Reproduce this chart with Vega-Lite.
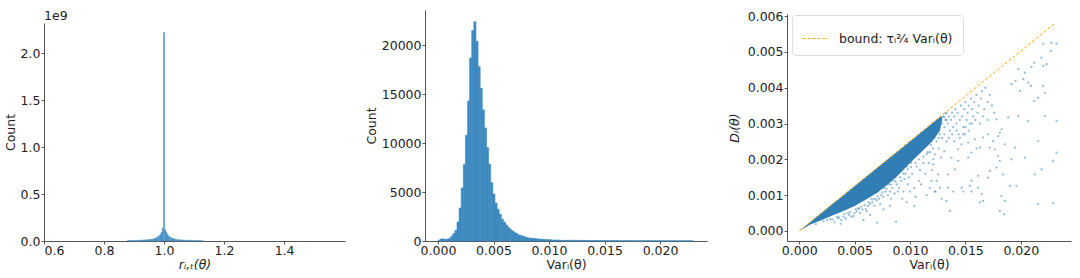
{
  "$schema": "https://vega.github.io/schema/vega-lite/v6.json",
  "padding": {"left": 4, "top": 9, "right": 5, "bottom": 2},
  "spacing": 80,
  "bounds": "flush",
  "resolve": {"scale": {"color": "independent"}, "legend": {"color": "independent"}},
  "config": {
    "view": {"stroke": null},
    "font": "DejaVu Sans",
    "axis": {"labelFontSize": 12.5, "titleFontSize": 12.5, "labelColor": "#222", "titleColor": "#222", "domainColor": "#555", "tickColor": "#555", "tickSize": 3, "grid": false, "titleFontWeight": "normal"},
    "axisX": {"labelPadding": 0, "titlePadding": 2},
    "axisY": {"labelPadding": 1, "titlePadding": 3}
  },
  "datasets": {
    "h1": [
      {"lo": 0.878, "hi": 0.888, "c": 0.004}, {"lo": 0.888, "hi": 0.898, "c": 0.005}, {"lo": 0.898, "hi": 0.908, "c": 0.006},
      {"lo": 0.908, "hi": 0.918, "c": 0.007}, {"lo": 0.918, "hi": 0.928, "c": 0.009}, {"lo": 0.928, "hi": 0.938, "c": 0.011},
      {"lo": 0.938, "hi": 0.948, "c": 0.013}, {"lo": 0.948, "hi": 0.958, "c": 0.016}, {"lo": 0.958, "hi": 0.962, "c": 0.019},
      {"lo": 0.962, "hi": 0.966, "c": 0.022}, {"lo": 0.966, "hi": 0.970, "c": 0.026}, {"lo": 0.970, "hi": 0.974, "c": 0.031},
      {"lo": 0.974, "hi": 0.978, "c": 0.037}, {"lo": 0.978, "hi": 0.982, "c": 0.045}, {"lo": 0.982, "hi": 0.986, "c": 0.055},
      {"lo": 0.986, "hi": 0.990, "c": 0.07}, {"lo": 0.990, "hi": 0.994, "c": 0.095}, {"lo": 0.994, "hi": 0.998, "c": 0.14},
      {"lo": 0.998, "hi": 1.002, "c": 2.22}, {"lo": 1.002, "hi": 1.006, "c": 0.12}, {"lo": 1.006, "hi": 1.010, "c": 0.09},
      {"lo": 1.010, "hi": 1.014, "c": 0.068}, {"lo": 1.014, "hi": 1.018, "c": 0.052}, {"lo": 1.018, "hi": 1.022, "c": 0.042},
      {"lo": 1.022, "hi": 1.026, "c": 0.034}, {"lo": 1.026, "hi": 1.030, "c": 0.028}, {"lo": 1.030, "hi": 1.034, "c": 0.024},
      {"lo": 1.034, "hi": 1.038, "c": 0.02}, {"lo": 1.038, "hi": 1.042, "c": 0.017}, {"lo": 1.042, "hi": 1.052, "c": 0.014},
      {"lo": 1.052, "hi": 1.062, "c": 0.012}, {"lo": 1.062, "hi": 1.072, "c": 0.01}, {"lo": 1.072, "hi": 1.082, "c": 0.008},
      {"lo": 1.082, "hi": 1.092, "c": 0.007}, {"lo": 1.092, "hi": 1.102, "c": 0.006}, {"lo": 1.102, "hi": 1.112, "c": 0.005},
      {"lo": 1.112, "hi": 1.122, "c": 0.004}, {"lo": 1.122, "hi": 1.132, "c": 0.003}
    ],
    "h2": [
      {"lo": 0, "hi": 0.00019, "c": 80}, {"lo": 0.00019, "hi": 0.00038, "c": 200}, {"lo": 0.00038, "hi": 0.00057, "c": 220},
      {"lo": 0.00057, "hi": 0.00076, "c": 170}, {"lo": 0.00076, "hi": 0.00095, "c": 190}, {"lo": 0.00095, "hi": 0.00114, "c": 260},
      {"lo": 0.00114, "hi": 0.00133, "c": 475}, {"lo": 0.00133, "hi": 0.00152, "c": 750}, {"lo": 0.00152, "hi": 0.00171, "c": 1090},
      {"lo": 0.00171, "hi": 0.0019, "c": 1940}, {"lo": 0.0019, "hi": 0.00209, "c": 3370}, {"lo": 0.00209, "hi": 0.00228, "c": 5420},
      {"lo": 0.00228, "hi": 0.00247, "c": 7800}, {"lo": 0.00247, "hi": 0.00266, "c": 10800}, {"lo": 0.00266, "hi": 0.00285, "c": 14300},
      {"lo": 0.00285, "hi": 0.00304, "c": 18700}, {"lo": 0.00304, "hi": 0.00323, "c": 21500}, {"lo": 0.00323, "hi": 0.00342, "c": 22400},
      {"lo": 0.00342, "hi": 0.00361, "c": 20400}, {"lo": 0.00361, "hi": 0.0038, "c": 17800}, {"lo": 0.0038, "hi": 0.00399, "c": 15600},
      {"lo": 0.00399, "hi": 0.00418, "c": 13400}, {"lo": 0.00418, "hi": 0.00437, "c": 11550}, {"lo": 0.00437, "hi": 0.00456, "c": 9550},
      {"lo": 0.00456, "hi": 0.00475, "c": 7850}, {"lo": 0.00475, "hi": 0.00494, "c": 5960}, {"lo": 0.00494, "hi": 0.00513, "c": 4800},
      {"lo": 0.00513, "hi": 0.00532, "c": 3880}, {"lo": 0.00532, "hi": 0.00551, "c": 3250}, {"lo": 0.00551, "hi": 0.0057, "c": 2740},
      {"lo": 0.0057, "hi": 0.00589, "c": 2230}, {"lo": 0.00589, "hi": 0.00608, "c": 1940}, {"lo": 0.00608, "hi": 0.00627, "c": 1640},
      {"lo": 0.00627, "hi": 0.00646, "c": 1400}, {"lo": 0.00646, "hi": 0.00665, "c": 1190}, {"lo": 0.00665, "hi": 0.00684, "c": 1020},
      {"lo": 0.00684, "hi": 0.00703, "c": 850}, {"lo": 0.00703, "hi": 0.00722, "c": 750}, {"lo": 0.00722, "hi": 0.00741, "c": 610},
      {"lo": 0.00741, "hi": 0.0076, "c": 545}, {"lo": 0.0076, "hi": 0.00779, "c": 480}, {"lo": 0.00779, "hi": 0.00798, "c": 410},
      {"lo": 0.00798, "hi": 0.00817, "c": 340}, {"lo": 0.00817, "hi": 0.00836, "c": 300}, {"lo": 0.00836, "hi": 0.00855, "c": 270},
      {"lo": 0.00855, "hi": 0.00874, "c": 265}, {"lo": 0.00874, "hi": 0.00893, "c": 240}, {"lo": 0.00893, "hi": 0.00912, "c": 205},
      {"lo": 0.00912, "hi": 0.00931, "c": 200}, {"lo": 0.00931, "hi": 0.0095, "c": 175}, {"lo": 0.0095, "hi": 0.00969, "c": 170},
      {"lo": 0.00969, "hi": 0.00988, "c": 140}, {"lo": 0.00988, "hi": 0.01007, "c": 135}, {"lo": 0.01007, "hi": 0.01026, "c": 130},
      {"lo": 0.01026, "hi": 0.01045, "c": 105}, {"lo": 0.01045, "hi": 0.01064, "c": 100}, {"lo": 0.01064, "hi": 0.01083, "c": 100},
      {"lo": 0.01083, "hi": 0.01102, "c": 95}, {"lo": 0.01102, "hi": 0.01121, "c": 65}, {"lo": 0.01121, "hi": 0.0114, "c": 55},
      {"lo": 0.0114, "hi": 0.01235, "c": 70}, {"lo": 0.01235, "hi": 0.0133, "c": 60}, {"lo": 0.0133, "hi": 0.01425, "c": 52},
      {"lo": 0.01425, "hi": 0.0152, "c": 45}, {"lo": 0.0152, "hi": 0.01615, "c": 40}, {"lo": 0.01615, "hi": 0.0171, "c": 36},
      {"lo": 0.0171, "hi": 0.01805, "c": 32}, {"lo": 0.01805, "hi": 0.019, "c": 30}, {"lo": 0.019, "hi": 0.01995, "c": 28},
      {"lo": 0.01995, "hi": 0.0209, "c": 25}, {"lo": 0.0209, "hi": 0.02185, "c": 24}, {"lo": 0.02185, "hi": 0.0228, "c": 22},
      {"lo": 0.0228, "hi": 0.023, "c": 20}
    ],
    "core": [
      {"x": 0, "y": 0, "lo": 0}, {"x": 0.001, "y": 0.00025, "lo": 0.00018}, {"x": 0.002, "y": 0.0005, "lo": 0.0003},
      {"x": 0.003, "y": 0.00075, "lo": 0.00043}, {"x": 0.004, "y": 0.001, "lo": 0.00056}, {"x": 0.005, "y": 0.00125, "lo": 0.0007},
      {"x": 0.006, "y": 0.0015, "lo": 0.00087}, {"x": 0.007, "y": 0.00175, "lo": 0.00106}, {"x": 0.008, "y": 0.002, "lo": 0.0013},
      {"x": 0.009, "y": 0.00225, "lo": 0.00158}, {"x": 0.010, "y": 0.0025, "lo": 0.0019}, {"x": 0.011, "y": 0.00275, "lo": 0.0022},
      {"x": 0.012, "y": 0.003, "lo": 0.0025}, {"x": 0.0127, "y": 0.00318, "lo": 0.0028}, {"x": 0.0129, "y": 0.0032, "lo": 0.0031}
    ],
    "pts": [
      {"x": 0.0025, "y": 0.0003}, {"x": 0.003, "y": 0.00032}, {"x": 0.0035, "y": 0.00035}, {"x": 0.0032, "y": 0.00025}, {"x": 0.00374, "y": 0.0002},
      {"x": 0.004, "y": 0.0004}, {"x": 0.0042, "y": 0.00035}, {"x": 0.0045, "y": 0.00045}, {"x": 0.0047, "y": 0.0004}, {"x": 0.0038, "y": 0.0003},
      {"x": 0.005, "y": 0.0005}, {"x": 0.0052, "y": 0.00055}, {"x": 0.0055, "y": 0.0005}, {"x": 0.0057, "y": 0.0006}, {"x": 0.0049, "y": 0.00042}, {"x": 0.0054, "y": 0.00062}, {"x": 0.0058, "y": 0.0003},
      {"x": 0.006, "y": 0.0006}, {"x": 0.0062, "y": 0.0007}, {"x": 0.0064, "y": 0.00075}, {"x": 0.0066, "y": 0.0008}, {"x": 0.0061, "y": 0.00055}, {"x": 0.0068, "y": 0.0007}, {"x": 0.0065, "y": 0.0009}, {"x": 0.0069, "y": 0.0009}, {"x": 0.0064, "y": 0.00045},
      {"x": 0.007, "y": 0.00085}, {"x": 0.0072, "y": 0.0009}, {"x": 0.0074, "y": 0.001}, {"x": 0.0076, "y": 0.00095}, {"x": 0.0071, "y": 0.0011}, {"x": 0.0078, "y": 0.0011}, {"x": 0.0073, "y": 0.00075}, {"x": 0.0077, "y": 0.0012}, {"x": 0.00704, "y": 0.00023}, {"x": 0.0076, "y": 0.0006},
      {"x": 0.008, "y": 0.001}, {"x": 0.0082, "y": 0.0011}, {"x": 0.0084, "y": 0.0012}, {"x": 0.0086, "y": 0.00105}, {"x": 0.0081, "y": 0.0013}, {"x": 0.0088, "y": 0.0013}, {"x": 0.0083, "y": 0.0009}, {"x": 0.0087, "y": 0.0015}, {"x": 0.0089, "y": 0.0011}, {"x": 0.0085, "y": 0.0014}, {"x": 0.00874, "y": 0.00026}, {"x": 0.0082, "y": 0.0007},
      {"x": 0.009, "y": 0.0012}, {"x": 0.0092, "y": 0.0014}, {"x": 0.0094, "y": 0.0011}, {"x": 0.0096, "y": 0.0016}, {"x": 0.0091, "y": 0.0017}, {"x": 0.0098, "y": 0.0013}, {"x": 0.0093, "y": 0.0009}, {"x": 0.0097, "y": 0.0018}, {"x": 0.0095, "y": 0.00145}, {"x": 0.0099, "y": 0.0015}, {"x": 0.0097, "y": 0.0008},
      {"x": 0.010, "y": 0.0011}, {"x": 0.0102, "y": 0.0016}, {"x": 0.0104, "y": 0.0012}, {"x": 0.0106, "y": 0.0018}, {"x": 0.0101, "y": 0.0019}, {"x": 0.0108, "y": 0.0014}, {"x": 0.0103, "y": 0.0021}, {"x": 0.0107, "y": 0.0022}, {"x": 0.0105, "y": 0.00095}, {"x": 0.0109, "y": 0.0017}, {"x": 0.0104, "y": 0.0007},
      {"x": 0.011, "y": 0.0013}, {"x": 0.0112, "y": 0.0019}, {"x": 0.0114, "y": 0.0016}, {"x": 0.0116, "y": 0.0022}, {"x": 0.0111, "y": 0.0023}, {"x": 0.0118, "y": 0.0012}, {"x": 0.0113, "y": 0.0025}, {"x": 0.0117, "y": 0.0019}, {"x": 0.0115, "y": 0.001}, {"x": 0.0119, "y": 0.0024},
      {"x": 0.012, "y": 0.0017}, {"x": 0.0122, "y": 0.0026}, {"x": 0.0124, "y": 0.0014}, {"x": 0.0126, "y": 0.0023}, {"x": 0.0121, "y": 0.002}, {"x": 0.0123, "y": 0.0011},
      {"x": 0.0015, "y": 0.00019}, {"x": 0.0022, "y": 0.00027}, {"x": 0.0028, "y": 0.00033}, {"x": 0.0034, "y": 0.0004}, {"x": 0.0036, "y": 0.00038}, {"x": 0.0041, "y": 0.00048},
      {"x": 0.0044, "y": 0.0005}, {"x": 0.0046, "y": 0.00053}, {"x": 0.0051, "y": 0.0006}, {"x": 0.0053, "y": 0.00064}, {"x": 0.0056, "y": 0.00068}, {"x": 0.0059, "y": 0.00072},
      {"x": 0.0063, "y": 0.0008}, {"x": 0.0067, "y": 0.00088}, {"x": 0.0071, "y": 0.00097}, {"x": 0.0075, "y": 0.00108}, {"x": 0.0079, "y": 0.00118}, {"x": 0.0083, "y": 0.0013},
      {"x": 0.0087, "y": 0.00138}, {"x": 0.0091, "y": 0.0015}, {"x": 0.0094, "y": 0.0016}, {"x": 0.0098, "y": 0.00172}, {"x": 0.0101, "y": 0.00178}, {"x": 0.0105, "y": 0.0019},
      {"x": 0.0108, "y": 0.002}, {"x": 0.0112, "y": 0.00208}, {"x": 0.0115, "y": 0.00215}, {"x": 0.0118, "y": 0.0022}, {"x": 0.0121, "y": 0.0023}, {"x": 0.0124, "y": 0.0025},
      {"x": 0.0126, "y": 0.0026}, {"x": 0.0131, "y": 0.00318}, {"x": 0.0133, "y": 0.0031}, {"x": 0.0132, "y": 0.00328},
      {"x": 0.0128, "y": 0.0031}, {"x": 0.0129, "y": 0.003}, {"x": 0.013, "y": 0.0032}, {"x": 0.0131, "y": 0.0029}, {"x": 0.0132, "y": 0.0031}, {"x": 0.0133, "y": 0.0033}, {"x": 0.0134, "y": 0.003}, {"x": 0.0135, "y": 0.0032}, {"x": 0.0136, "y": 0.0028}, {"x": 0.0137, "y": 0.0031},
      {"x": 0.0138, "y": 0.0033}, {"x": 0.0139, "y": 0.0029}, {"x": 0.014, "y": 0.0032}, {"x": 0.0141, "y": 0.0034}, {"x": 0.0142, "y": 0.003}, {"x": 0.0143, "y": 0.0033}, {"x": 0.0144, "y": 0.0027}, {"x": 0.0145, "y": 0.0031}, {"x": 0.0146, "y": 0.0035}, {"x": 0.0147, "y": 0.0032},
      {"x": 0.0148, "y": 0.0029}, {"x": 0.0149, "y": 0.0034}, {"x": 0.015, "y": 0.0036}, {"x": 0.0151, "y": 0.0031}, {"x": 0.0152, "y": 0.0033}, {"x": 0.0153, "y": 0.0035}, {"x": 0.0154, "y": 0.003}, {"x": 0.0155, "y": 0.0037}, {"x": 0.0156, "y": 0.0034}, {"x": 0.0157, "y": 0.0032},
      {"x": 0.0158, "y": 0.0036}, {"x": 0.016, "y": 0.0038}, {"x": 0.0161, "y": 0.0033}, {"x": 0.0162, "y": 0.0035}, {"x": 0.0164, "y": 0.0037}, {"x": 0.0165, "y": 0.0039}, {"x": 0.0167, "y": 0.0034}, {"x": 0.0168, "y": 0.004}, {"x": 0.017, "y": 0.0036}, {"x": 0.0172, "y": 0.0038},
      {"x": 0.0174, "y": 0.0035}, {"x": 0.0176, "y": 0.0033}, {"x": 0.0127, "y": 0.0027}, {"x": 0.0129, "y": 0.0026}, {"x": 0.0131, "y": 0.0027}, {"x": 0.0133, "y": 0.0025}, {"x": 0.0135, "y": 0.0026}, {"x": 0.0138, "y": 0.0027}, {"x": 0.014, "y": 0.0025}, {"x": 0.0142, "y": 0.0028},
      {"x": 0.0145, "y": 0.0026}, {"x": 0.0148, "y": 0.0027}, {"x": 0.015, "y": 0.0029}, {"x": 0.0153, "y": 0.0028}, {"x": 0.0156, "y": 0.003}, {"x": 0.0159, "y": 0.0031}, {"x": 0.0163, "y": 0.003}, {"x": 0.0166, "y": 0.0032}, {"x": 0.017, "y": 0.0031},
      {"x": 0.02202, "y": 0.00523}, {"x": 0.02277, "y": 0.00526}, {"x": 0.02322, "y": 0.00523}, {"x": 0.02271, "y": 0.00503}, {"x": 0.02187, "y": 0.00484}, {"x": 0.02232, "y": 0.00466}, {"x": 0.02202, "y": 0.00461}, {"x": 0.02121, "y": 0.0047},
      {"x": 0.02097, "y": 0.00458}, {"x": 0.01977, "y": 0.00452}, {"x": 0.02037, "y": 0.00442}, {"x": 0.02022, "y": 0.00424}, {"x": 0.02067, "y": 0.00414}, {"x": 0.01953, "y": 0.00419}, {"x": 0.01916, "y": 0.0041}, {"x": 0.02091, "y": 0.00405},
      {"x": 0.01992, "y": 0.00391}, {"x": 0.02202, "y": 0.00405}, {"x": 0.02217, "y": 0.00386}, {"x": 0.02157, "y": 0.00372}, {"x": 0.02121, "y": 0.00363}, {"x": 0.02322, "y": 0.00307}, {"x": 0.02217, "y": 0.00321}, {"x": 0.02067, "y": 0.00307},
      {"x": 0.01977, "y": 0.00321}, {"x": 0.01886, "y": 0.00317}, {"x": 0.01811, "y": 0.00275}, {"x": 0.01781, "y": 0.00312}, {"x": 0.01856, "y": 0.00242}, {"x": 0.01947, "y": 0.00233}, {"x": 0.02157, "y": 0.00251}, {"x": 0.02322, "y": 0.00219},
      {"x": 0.02292, "y": 0.00196}, {"x": 0.02187, "y": 0.00172}, {"x": 0.02127, "y": 0.00158}, {"x": 0.02037, "y": 0.00205}, {"x": 0.01916, "y": 0.002}, {"x": 0.01961, "y": 0.00126}, {"x": 0.01901, "y": 0.00126}, {"x": 0.01796, "y": 0.0021},
      {"x": 0.01811, "y": 0.00196}, {"x": 0.01781, "y": 0.00177}, {"x": 0.01841, "y": 0.00158}, {"x": 0.01721, "y": 0.00168}, {"x": 0.01706, "y": 0.00149}, {"x": 0.01615, "y": 0.00154}, {"x": 0.01555, "y": 0.0014}, {"x": 0.01615, "y": 0.00121},
      {"x": 0.01645, "y": 0.00103}, {"x": 0.0166, "y": 0.00084}, {"x": 0.0163, "y": 0.0008}, {"x": 0.01555, "y": 0.0011}, {"x": 0.0154, "y": 0.00126}, {"x": 0.0148, "y": 0.0011}, {"x": 0.01465, "y": 0.00121}, {"x": 0.01811, "y": 0.00056},
      {"x": 0.0185, "y": 0.00047}, {"x": 0.01856, "y": 0.00084}, {"x": 0.01826, "y": 0.00098}, {"x": 0.02157, "y": 0.00075}, {"x": 0.02292, "y": 0.00078}, {"x": 0.0136, "y": 0.00056}, {"x": 0.0133, "y": 0.00084}, {"x": 0.01284, "y": 0.0009},
      {"x": 0.0139, "y": 0.0011}, {"x": 0.01345, "y": 0.00121}, {"x": 0.01269, "y": 0.00121}, {"x": 0.01224, "y": 0.0011}, {"x": 0.01194, "y": 0.0014}, {"x": 0.01254, "y": 0.00158}, {"x": 0.01345, "y": 0.00158}, {"x": 0.01405, "y": 0.00172},
      {"x": 0.01435, "y": 0.00196}, {"x": 0.01375, "y": 0.00205}, {"x": 0.01525, "y": 0.00205}, {"x": 0.01555, "y": 0.00219}, {"x": 0.016, "y": 0.0023}, {"x": 0.0163, "y": 0.00233}, {"x": 0.0172, "y": 0.00233}, {"x": 0.01766, "y": 0.00228},
      {"x": 0.0175, "y": 0.00251}, {"x": 0.01796, "y": 0.00265}, {"x": 0.01826, "y": 0.00284}, {"x": 0.01706, "y": 0.0027}, {"x": 0.0166, "y": 0.00261}, {"x": 0.01585, "y": 0.00256}, {"x": 0.01525, "y": 0.00247}, {"x": 0.01465, "y": 0.00242},
      {"x": 0.01495, "y": 0.0027}, {"x": 0.01435, "y": 0.00228}, {"x": 0.0131, "y": 0.00223}, {"x": 0.0128, "y": 0.00205}, {"x": 0.01224, "y": 0.00214}, {"x": 0.01209, "y": 0.00186}
    ],
    "bound": [
      {"x": 0, "y": 0, "k": "bound: τᵢ²⁄₄ Varᵢ(θ)"}, {"x": 0.023, "y": 0.00578, "k": "bound: τᵢ²⁄₄ Varᵢ(θ)"}
    ]
  },
  "hconcat": [
    {
      "width": 301,
      "height": 231,
      "title": {"text": "1e9", "anchor": "start", "frame": "group", "offset": -12, "fontSize": 12.5, "fontWeight": "normal", "color": "#222"},
      "data": {"name": "h1"},
      "mark": {"type": "bar", "color": "#4a92c6", "stroke": "#4a92c6", "strokeWidth": 0.4},
      "encoding": {
        "x": {"field": "lo", "type": "quantitative", "scale": {"domain": [0.6, 1.603], "nice": false, "zero": false},
              "axis": {"title": "rᵢ,ₜ(θ)", "titleFontStyle": "italic", "values": [0.6, 0.8, 1.0, 1.2, 1.4], "format": ".1f"}},
        "x2": {"field": "hi"},
        "y": {"field": "c", "type": "quantitative", "scale": {"domain": [0, 2.32], "nice": false, "range": [231, 13]},
              "axis": {"title": "Count", "values": [0, 0.5, 1, 1.5, 2], "format": ".1f"}},
        "y2": {"datum": 0}
      }
    },
    {
      "width": 282,
      "height": 231,
      "data": {"name": "h2"},
      "mark": {"type": "bar", "color": "#3d89c0", "stroke": "#3d89c0", "strokeWidth": 0.6},
      "encoding": {
        "x": {"field": "lo", "type": "quantitative", "scale": {"domain": [-0.00117, 0.02423], "nice": false, "zero": false},
              "axis": {"title": "Varᵢ(θ)", "values": [0, 0.005, 0.01, 0.015, 0.02], "format": ".3f"}},
        "x2": {"field": "hi"},
        "y": {"field": "c", "type": "quantitative", "scale": {"domain": [0, 23600], "nice": false},
              "axis": {"title": "Count", "values": [0, 5000, 10000, 15000, 20000], "format": "d"}},
        "y2": {"datum": 0}
      }
    },
    {
      "width": 284,
      "height": 231,
      "encoding": {
        "x": {"field": "x", "type": "quantitative", "scale": {"domain": [-0.0011, 0.02453], "nice": false, "zero": false},
              "axis": {"title": "Varᵢ(θ)", "values": [0, 0.005, 0.01, 0.015, 0.02], "format": ".3f"}},
        "y": {"field": "y", "type": "quantitative", "scale": {"domain": [-0.00028, 0.00606], "nice": false, "zero": false, "range": [231, 4]},
              "axis": {"title": "Dᵢ(θ)", "titleFontStyle": "italic", "titlePadding": 6, "values": [0, 0.001, 0.002, 0.003, 0.004, 0.005, 0.006], "format": ".3f"}}
      },
      "layer": [
        {
          "data": {"name": "core"},
          "mark": {"type": "area", "color": "#2677b3", "opacity": 0.95},
          "encoding": {"y2": {"field": "lo"}}
        },
        {
          "data": {"name": "pts"},
          "mark": {"type": "circle", "size": 5, "color": "#1f77b4", "opacity": 0.5}
        },
        {
          "data": {"name": "bound"},
          "mark": {"type": "line", "strokeDash": [3, 2], "strokeWidth": 1},
          "encoding": {
            "color": {"field": "k", "type": "nominal", "scale": {"range": ["#ffa500"]},
                      "legend": {"title": null, "orient": "top-left", "offset": 5, "symbolType": "stroke", "symbolSize": 676, "symbolStrokeWidth": 1, "symbolDash": [3, 2], "labelFontSize": 12.5, "labelColor": "#222", "labelOffset": 10, "fillColor": "white", "strokeColor": "#ddd", "cornerRadius": 3, "padding": 10}}
          }
        }
      ]
    }
  ]
}
